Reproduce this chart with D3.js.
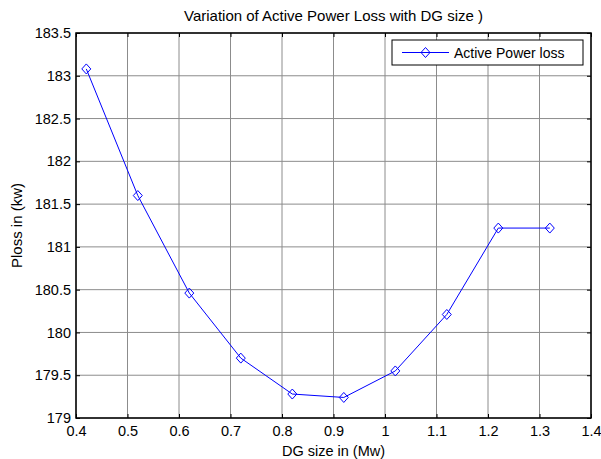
<!DOCTYPE html>
<html lang="en">
<head>
    <meta charset="UTF-8">
    <title>Active Power Loss vs DG size</title>
    <script src="https://d3js.org/d3.v7.min.js"></script>
    <style>
        body { margin: 0; background: #fff; }
        svg text { font-family: "Liberation Sans", Arial, sans-serif; fill: #000; }
    </style>
</head>
<body>
    <svg width="601" height="459"></svg>
    <script>
        // data
        var dgSize = [0.42, 0.52, 0.62, 0.72, 0.82, 0.92, 1.02, 1.12, 1.22, 1.32];
        var ploss = [183.08, 181.60, 180.46, 179.70, 179.28, 179.24, 179.55, 180.21, 181.22, 181.22];
        var xTicks = [0.4, 0.5, 0.6, 0.7, 0.8, 0.9, 1, 1.1, 1.2, 1.3, 1.4];
        var yTicks = [179, 179.5, 180, 180.5, 181, 181.5, 182, 182.5, 183, 183.5];

        var margin = {top: 33, right: 10, bottom: 41, left: 76};
        var width = 515, height = 385;
        var fs = 14.5;

        var svg = d3.select("svg");
        var g = svg.append("g")
            .attr("transform", "translate(" + margin.left + "," + margin.top + ")");

        var x = d3.scaleLinear().domain([0.4, 1.4]).range([0, width]);
        var y = d3.scaleLinear().domain([179, 183.5]).range([height, 0]);

        // grid
        g.append("g").selectAll("line").data(xTicks).enter().append("line")
            .attr("x1", d => x(d)).attr("x2", d => x(d))
            .attr("y1", 0).attr("y2", height)
            .attr("stroke", "#8c8c8c").attr("stroke-width", 1);
        g.append("g").selectAll("line").data(yTicks).enter().append("line")
            .attr("y1", d => y(d)).attr("y2", d => y(d))
            .attr("x1", 0).attr("x2", width)
            .attr("stroke", "#8c8c8c").attr("stroke-width", 1);

        // axes with inward ticks
        var fmt = d => String(+d.toFixed(1));
        g.append("g")
            .attr("transform", "translate(0," + height + ")")
            .call(d3.axisBottom(x).tickValues(xTicks).tickFormat(fmt).tickSize(-4).tickPadding(8))
            .call(a => a.select(".domain").remove())
            .call(a => a.selectAll("text").attr("font-size", fs).attr("font-family", null));
        g.append("g")
            .call(d3.axisTop(x).tickValues(xTicks).tickFormat("").tickSize(-4))
            .call(a => a.select(".domain").remove());
        g.append("g")
            .call(d3.axisLeft(y).tickValues(yTicks).tickFormat(fmt).tickSize(-4).tickPadding(5))
            .call(a => a.select(".domain").remove())
            .call(a => a.selectAll("text").attr("font-size", fs).attr("font-family", null));
        g.append("g")
            .attr("transform", "translate(" + width + ",0)")
            .call(d3.axisRight(y).tickValues(yTicks).tickFormat("").tickSize(-4))
            .call(a => a.select(".domain").remove());

        g.append("rect")
            .attr("width", width).attr("height", height)
            .attr("fill", "none").attr("stroke", "#000").attr("stroke-width", 1.5);

        // series
        var pts = dgSize.map((d, i) => [d, ploss[i]]);
        g.append("path")
            .datum(pts)
            .attr("fill", "none")
            .attr("stroke", "#0000ff")
            .attr("stroke-width", 1)
            .attr("d", d3.line().x(d => x(d[0])).y(d => y(d[1])));

        var diamond = "M0,-5L4.5,0L0,5L-4.5,0Z";
        g.append("g").selectAll("path").data(pts).enter().append("path")
            .attr("transform", d => "translate(" + x(d[0]) + "," + y(d[1]) + ")")
            .attr("d", diamond)
            .attr("fill", "none")
            .attr("stroke", "#0000ff")
            .attr("stroke-width", 1);

        // legend
        var lg = svg.append("g").attr("transform", "translate(392,40)");
        lg.append("rect").attr("width", 191).attr("height", 25)
            .attr("fill", "#fff").attr("stroke", "#000").attr("stroke-width", 1);
        lg.append("line").attr("x1", 10).attr("x2", 57).attr("y1", 12.5).attr("y2", 12.5)
            .attr("stroke", "#0000ff").attr("stroke-width", 1);
        lg.append("path").attr("transform", "translate(33.5,12.5)").attr("d", diamond)
            .attr("fill", "none").attr("stroke", "#0000ff");
        lg.append("text").attr("x", 62).attr("y", 17.5).attr("font-size", 14)
            .text("Active Power loss");

        // titles
        svg.append("text")
            .attr("x", margin.left + width / 2).attr("y", 21)
            .attr("text-anchor", "middle").attr("font-size", 15)
            .text("Variation of Active Power Loss with DG size )");
        svg.append("text")
            .attr("x", margin.left + width / 2).attr("y", 456)
            .attr("text-anchor", "middle").attr("font-size", fs)
            .text("DG size in (Mw)");
        svg.append("text")
            .attr("transform", "translate(22," + (margin.top + height / 2) + ")rotate(-90)")
            .attr("text-anchor", "middle").attr("font-size", 15)
            .text("Ploss in (kw)");
    </script>
</body>
</html>
